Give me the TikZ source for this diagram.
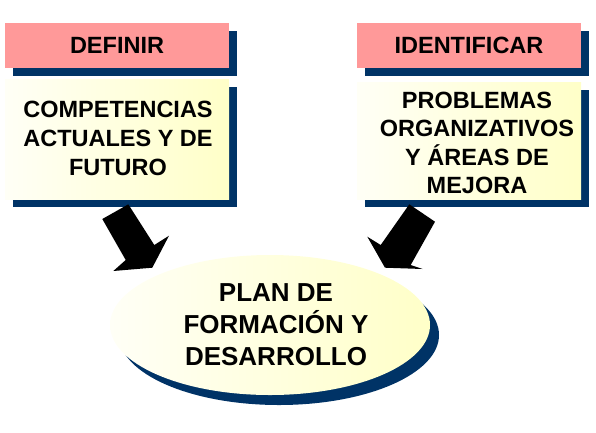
\documentclass[tikz,border=0pt]{standalone}
\usepackage{fontspec}
\setmainfont{Liberation Sans}
\usetikzlibrary{shapes.geometric,shadows}
\definecolor{navy}{HTML}{003366}
\definecolor{pinkbox}{HTML}{FF9999}
\definecolor{ylight}{HTML}{FFFFF6}
\definecolor{ydark}{HTML}{FFFFC8}
\tikzset{
  shadowed/.style={drop shadow={shadow xshift=8pt,shadow yshift=-8pt,fill=navy,opacity=1}},
  headbox/.style={shadowed,rectangle,fill=pinkbox,minimum width=224pt,minimum height=45pt,inner sep=0pt,
    font=\bfseries\fontsize{23.5}{28.5}\selectfont},
  ybox/.style={shadowed,rectangle,left color=ylight,right color=ydark,minimum width=224pt,inner sep=0pt},
  boxtext/.style={align=center,inner sep=0pt,font=\bfseries\fontsize{23.5}{28.6}\selectfont},
  planshape/.style={ellipse,drop shadow={shadow xshift=9pt,shadow yshift=-10pt,fill=navy,opacity=1},
    left color=ylight,right color=ydark,minimum width=320pt,minimum height=140pt,inner sep=0pt},
  plantext/.style={align=center,inner sep=0pt,font=\bfseries\fontsize{26}{32}\selectfont},
  blockarrow/.style={fill=black}
}
\begin{document}
\begin{tikzpicture}[x=1pt,y=-1pt]
\useasboundingbox (0,0) rectangle (596,432);
% left column
\node[headbox] (def) at (117,45.5) {DEFINIR};
\node[ybox,minimum height=120pt] (comp) at (117,139) {};
\node[boxtext] (comptxt) at (118,138.5) {COMPETENCIAS\\ACTUALES Y DE\\FUTURO};
% right column
\node[headbox] (ide) at (469,45.5) {IDENTIFICAR};
\node[ybox,minimum height=117pt] (prob) at (469,140.5) {};
\node[boxtext] (probtxt) at (477,143) {PROBLEMAS\\ORGANIZATIVOS\\Y ÁREAS DE\\MEJORA};
% ellipse
\node[planshape] (plan) at (270,325) {};
\node[plantext] (plantxt) at (276,324.5) {PLAN DE\\FORMACIÓN Y\\DESARROLLO};
% arrows
\fill[blockarrow] (102.3,219) -- (128.3,204.3) -- (154.3,245) -- (169,235.7) -- (152.3,267.7) -- (113.3,271) -- (125.7,260) -- cycle;
\fill[blockarrow] (409.3,204.3) -- (435,221.7) -- (410.7,265) -- (422.7,269) -- (385,267.7) -- (367.3,236.7) -- (380.7,245) -- cycle;
\end{tikzpicture}
\end{document}
